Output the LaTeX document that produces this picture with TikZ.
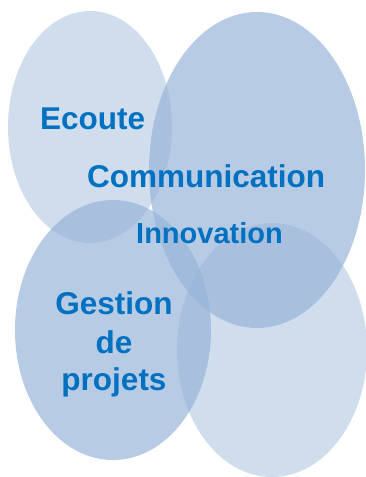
\documentclass[tikz,border=0pt]{standalone}
\usepackage{fontspec}
\setmainfont{Liberation Sans}
\definecolor{ellblue}{HTML}{95B3D7}
\definecolor{txtblue}{HTML}{0070C0}
\begin{document}
\begin{tikzpicture}[x=1pt,y=-1pt,
  light/.style={fill=ellblue,fill opacity=0.45,draw=none},
  dark/.style={fill=ellblue,fill opacity=0.68,draw=none},
  lbl/.style={inner sep=0,text=txtblue,font=\fontsize{31.5}{38}\selectfont\bfseries,anchor=base west},
  lblc/.style={inner sep=0,text=txtblue,font=\fontsize{31.5}{38}\selectfont\bfseries,anchor=base}]
\useasboundingbox (0,0) rectangle (366,477);
\fill[light] (90,127) ellipse [x radius=82, y radius=116];
\fill[dark] (257,170) ellipse [x radius=108, y radius=158];
\fill[dark] (113,330) ellipse [x radius=98, y radius=130];
\fill[light] (272,350) ellipse [x radius=95, y radius=127];
\node[lbl] (ecoute) at (40,129) {Ecoute};
\node[lbl] (comm) at (87,187) {Communication};
\node[lbl,font=\fontsize{29}{35}\selectfont\bfseries] (innov) at (136,243) {Innovation};
\node[lblc] (gest) at (114,314) {Gestion};
\node[lblc] (de) at (114,353) {de};
\node[lblc] (proj) at (114,390) {projets};
\end{tikzpicture}
\end{document}
